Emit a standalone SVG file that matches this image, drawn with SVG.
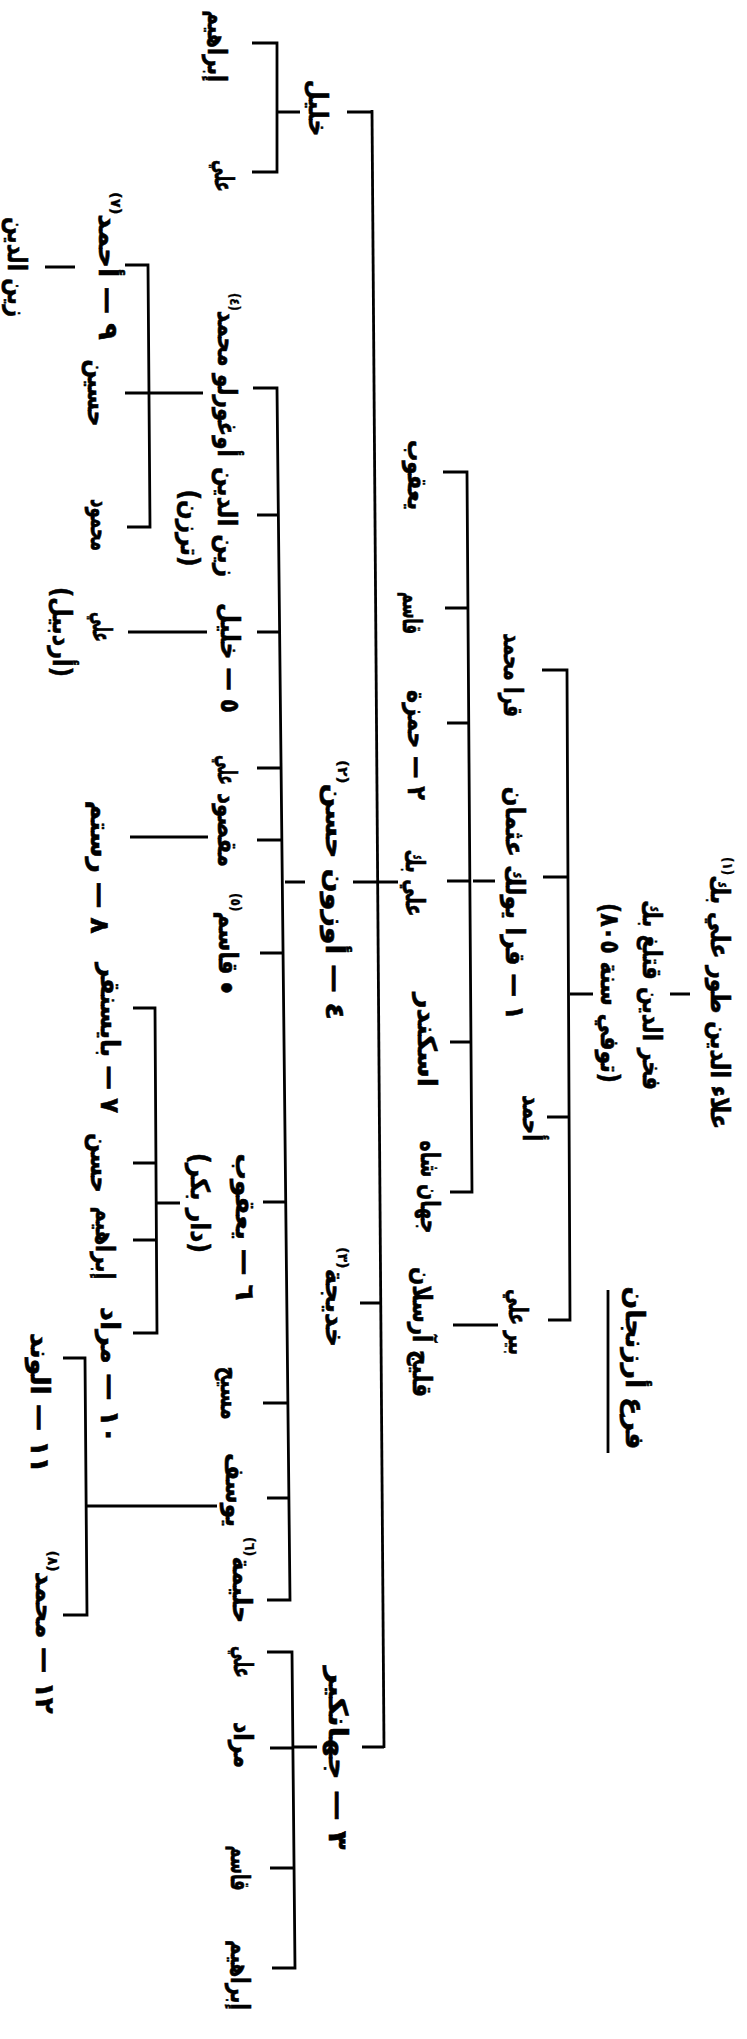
<svg xmlns="http://www.w3.org/2000/svg" width="747" height="2039" viewBox="0 0 747 2039">
<style>
.t{font-family:"DejaVu Sans","Noto Sans",sans-serif;font-weight:bold;font-size:26px;direction:rtl;text-anchor:middle;dominant-baseline:central;fill:#000;stroke:#000;stroke-width:0.6}
.fn{font-size:14px;stroke-width:0.3}
.dot{font-size:14px}
.ln{stroke:#000;stroke-width:2.8;fill:none}
</style>
<rect width="747" height="2039" fill="#fff"/>
<g id="connectors" class="ln">
<path d="M372,110 L384,1748"/>
<path d="M347,112 H372 M353,882 H377 M377,882 H398 M360,1303 H381 M362,1747 H384"/>
<path d="M252,43 H277 V172 H252 M277,112 H300"/>
<path d="M443,472 H467 L472,1192 H450 M445,608 H468 M447,723 H469 M447,881 H470 M450,1042 H471 M473,881 H495"/>
<path d="M542,670 H567 L570,1320 H548 M543,877 H568 M547,1117 H569 M570,994 H593 M670,994 H690"/>
<path d="M453,1325 H498"/>
<path d="M253,388 H277 L290,1600 H267 M257,515 H278 M257,632 H280 M257,768 H281 M257,840 H282 M260,953 H283 M263,1202 H286 M263,1403 H288 M267,1498 H289 M285,882 H305"/>
<path d="M125,265 H148 L150,527 H127 M125,393 H203"/>
<path d="M45,267 H75 M128,632 H207 M130,837 H208"/>
<path d="M133,1008 H155 L157,1333 H133 M133,1163 H156 M133,1240 H157 M156,1203 H180"/>
<path d="M63,1358 H85 L87,1615 H63 M86,1506 H217"/>
<path d="M267,1652 H292 L295,1968 H272 M270,1748 H294 M294,1747 H317 M270,1868 H294"/>
<path d="M608,1290 V1453"/>
</g>
<g id="root1"><text class="t" transform="translate(720,993) rotate(90)" textLength="272" lengthAdjust="spacingAndGlyphs">علاء الدين طور علي بك<tspan class="fn" baseline-shift="super">(١)</tspan></text></g>
<g id="root2"><text class="t" transform="translate(652,995) rotate(90)" textLength="190" lengthAdjust="spacingAndGlyphs">فخر الدين قتلغ بك</text></g>
<g id="root3"><text class="t" transform="translate(610,993) rotate(90)" textLength="180" lengthAdjust="spacingAndGlyphs">(توفي سنة ٨٠٥)</text></g>
<g id="title"><text class="t" transform="translate(635,1368) rotate(90)" textLength="163" lengthAdjust="spacingAndGlyphs">فرع أرزنجان</text></g>
<g id="qara-muhammad"><text class="t" transform="translate(513,675) rotate(90)" textLength="84" lengthAdjust="spacingAndGlyphs">قرا محمد</text></g>
<g id="qara-yuluk"><text class="t" transform="translate(515,903) rotate(90)" textLength="233" lengthAdjust="spacingAndGlyphs">١ — قرا يولك عثمان</text></g>
<g id="ahmad1"><text class="t" transform="translate(532,1118) rotate(90)" textLength="46" lengthAdjust="spacingAndGlyphs">أحمد</text></g>
<g id="pir-ali"><text class="t" transform="translate(518,1322) rotate(90)" textLength="66" lengthAdjust="spacingAndGlyphs">بير علي</text></g>
<g id="yaqub1"><text class="t" transform="translate(417,475) rotate(90)" textLength="70" lengthAdjust="spacingAndGlyphs">يعقوب</text></g>
<g id="qasim1"><text class="t" transform="translate(412,613) rotate(90)" textLength="42" lengthAdjust="spacingAndGlyphs">قاسم</text></g>
<g id="hamza"><text class="t" transform="translate(417,745) rotate(90)" textLength="110" lengthAdjust="spacingAndGlyphs">٢ — حمزة</text></g>
<g id="ali-bek"><text class="t" transform="translate(415,883) rotate(90)" textLength="67" lengthAdjust="spacingAndGlyphs">علي بك</text></g>
<g id="iskandar"><text class="t" transform="translate(427,1040) rotate(90)" textLength="94" lengthAdjust="spacingAndGlyphs">اسكندر</text></g>
<g id="jahanshah"><text class="t" transform="translate(430,1187) rotate(90)" textLength="93" lengthAdjust="spacingAndGlyphs">جهان شاه</text></g>
<g id="qilij"><text class="t" transform="translate(422,1332) rotate(90)" textLength="130" lengthAdjust="spacingAndGlyphs">قليج آرسلان</text></g>
<g id="khalil1"><text class="t" transform="translate(318,108) rotate(90)" textLength="57" lengthAdjust="spacingAndGlyphs">خليل</text></g>
<g id="ibrahim1"><text class="t" transform="translate(217,46) rotate(90)" textLength="72" lengthAdjust="spacingAndGlyphs">إبراهيم</text></g>
<g id="ali1"><text class="t" transform="translate(224,176) rotate(90)" textLength="32" lengthAdjust="spacingAndGlyphs">علي</text></g>
<g id="ughurlu"><text class="t" transform="translate(227,375) rotate(90)" textLength="164" lengthAdjust="spacingAndGlyphs">أوغورلو محمد<tspan class="fn" baseline-shift="super">(٤)</tspan></text></g>
<g id="ahmad9"><text class="t" transform="translate(108,266) rotate(90)" textLength="148" lengthAdjust="spacingAndGlyphs">٩ — أحمد<tspan class="fn" baseline-shift="super">(٧)</tspan></text></g>
<g id="zayn1"><text class="t" transform="translate(17,267) rotate(90)" textLength="100" lengthAdjust="spacingAndGlyphs">زين الدين</text></g>
<g id="husayn"><text class="t" transform="translate(97,393) rotate(90)" textLength="67" lengthAdjust="spacingAndGlyphs">حسين</text></g>
<g id="mahmud"><text class="t" transform="translate(100,525) rotate(90)" textLength="52" lengthAdjust="spacingAndGlyphs">محمود</text></g>
<g id="zayn2"><text class="t" transform="translate(227,522) rotate(90)" textLength="110" lengthAdjust="spacingAndGlyphs">زين الدين</text><text class="t" transform="translate(190,528) rotate(90)" textLength="77" lengthAdjust="spacingAndGlyphs">(ترزن)</text></g>
<g id="khalil5"><text class="t" transform="translate(230,658) rotate(90)" textLength="110" lengthAdjust="spacingAndGlyphs">٥ — خليل</text></g>
<g id="ali-ardabil"><text class="t" transform="translate(102,627) rotate(90)" textLength="30" lengthAdjust="spacingAndGlyphs">علي</text><text class="t" transform="translate(62,632) rotate(90)" textLength="90" lengthAdjust="spacingAndGlyphs">(أردبيل)</text></g>
<g id="ali2"><text class="t" transform="translate(227,770) rotate(90)" textLength="30" lengthAdjust="spacingAndGlyphs">علي</text></g>
<g id="maqsud"><text class="t" transform="translate(227,830) rotate(90)" textLength="74" lengthAdjust="spacingAndGlyphs">مقصود</text></g>
<g id="rustam"><text class="t" transform="translate(100,867) rotate(90)" textLength="133" lengthAdjust="spacingAndGlyphs">٨ — رستم</text></g>
<g id="qasim5"><text class="t" transform="translate(228,943) rotate(90)" textLength="100" lengthAdjust="spacingAndGlyphs"><tspan class="dot">●</tspan> قاسم<tspan class="fn" baseline-shift="super">(٥)</tspan></text></g>
<g id="uzun-hasan"><text class="t" transform="translate(335,890) rotate(90)" textLength="260" lengthAdjust="spacingAndGlyphs">٤ — أوزون حسن<tspan class="fn" baseline-shift="super">(٢)</tspan></text></g>
<g id="baysunqur"><text class="t" transform="translate(110,1038) rotate(90)" textLength="150" lengthAdjust="spacingAndGlyphs">٧ — بايسنقر</text></g>
<g id="hasan"><text class="t" transform="translate(100,1163) rotate(90)" textLength="60" lengthAdjust="spacingAndGlyphs">حسن</text></g>
<g id="yaqub6"><text class="t" transform="translate(245,1227) rotate(90)" textLength="147" lengthAdjust="spacingAndGlyphs">٦ — يعقوب</text><text class="t" transform="translate(200,1203) rotate(90)" textLength="100" lengthAdjust="spacingAndGlyphs">(دار بكر)</text></g>
<g id="ibrahim2"><text class="t" transform="translate(105,1243) rotate(90)" textLength="73" lengthAdjust="spacingAndGlyphs">إبراهيم</text></g>
<g id="murad10"><text class="t" transform="translate(110,1375) rotate(90)" textLength="136" lengthAdjust="spacingAndGlyphs">١٠ — مراد</text></g>
<g id="alvand"><text class="t" transform="translate(40,1403) rotate(90)" textLength="140" lengthAdjust="spacingAndGlyphs">١١ — الوند</text></g>
<g id="masih"><text class="t" transform="translate(230,1393) rotate(90)" textLength="53" lengthAdjust="spacingAndGlyphs">مسيح</text></g>
<g id="yusuf"><text class="t" transform="translate(235,1490) rotate(90)" textLength="74" lengthAdjust="spacingAndGlyphs">يوسف</text></g>
<g id="khadija"><text class="t" transform="translate(335,1297) rotate(90)" textLength="100" lengthAdjust="spacingAndGlyphs">خديجة<tspan class="fn" baseline-shift="super">(٣)</tspan></text></g>
<g id="halima"><text class="t" transform="translate(242,1580) rotate(90)" textLength="86" lengthAdjust="spacingAndGlyphs">حليمة<tspan class="fn" baseline-shift="super">(٦)</tspan></text></g>
<g id="muhammad12"><text class="t" transform="translate(45,1632) rotate(90)" textLength="163" lengthAdjust="spacingAndGlyphs">١٢ — محمد<tspan class="fn" baseline-shift="super">(٨)</tspan></text></g>
<g id="jahangir"><text class="t" transform="translate(338,1758) rotate(90)" textLength="183" lengthAdjust="spacingAndGlyphs">٣ — جهانكير</text></g>
<g id="ali3"><text class="t" transform="translate(243,1662) rotate(90)" textLength="32" lengthAdjust="spacingAndGlyphs">علي</text></g>
<g id="murad3"><text class="t" transform="translate(243,1745) rotate(90)" textLength="46" lengthAdjust="spacingAndGlyphs">مراد</text></g>
<g id="qasim3"><text class="t" transform="translate(240,1868) rotate(90)" textLength="45" lengthAdjust="spacingAndGlyphs">قاسم</text></g>
<g id="ibrahim3"><text class="t" transform="translate(240,1975) rotate(90)" textLength="70" lengthAdjust="spacingAndGlyphs">إبراهيم</text></g>
</svg>
